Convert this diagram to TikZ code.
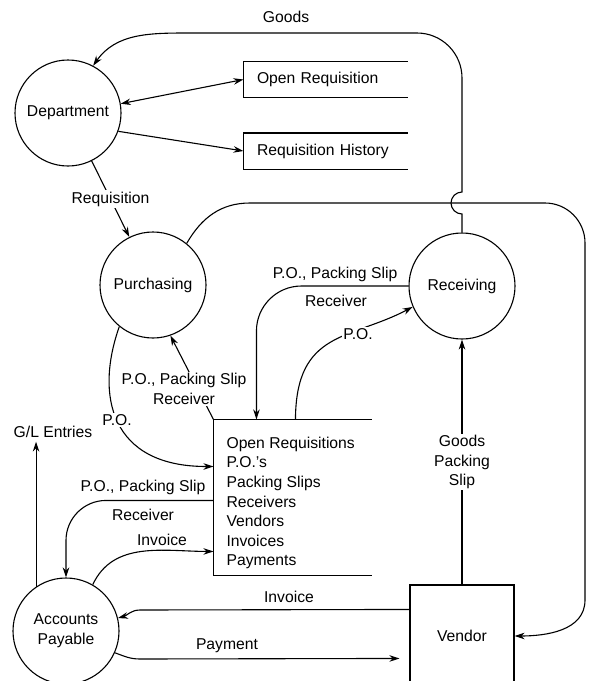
\documentclass[tikz,border=0pt]{standalone}
\usepackage{fontspec}
\setmainfont{Liberation Sans}
\usetikzlibrary{arrows.meta}

\tikzset{
  proc/.style={draw, circle, minimum size=106pt, inner sep=0pt, align=center},
  flow/.style={-{Stealth[length=10pt,width=6.5pt]}},
  flowboth/.style={{Stealth[length=10pt,width=6.5pt]}-{Stealth[length=10pt,width=6.5pt]}},
  lbl/.style={fill=white, inner sep=1.5pt, align=center},
  datastore/.style={minimum width=163pt, minimum height=35pt, text width=137pt, inner xsep=13pt, inner ysep=0pt, align=left},
}

\begin{document}
\begin{tikzpicture}[x=1pt, y=1pt, line width=1.1pt, font=\fontsize{15.7}{19.6}\selectfont]
            \useasboundingbox (0,0) rectangle (589,-681);
            \clip (0,0) rectangle (589,-681);

            \node[proc] (dep) at (68,-113) {Department};
            \node[proc] (pur) at (153,-285) {Purchasing};
            \node[proc] (rec) at (462,-286) {Receiving};
            \node[proc] (ap) at (66,-631) {Accounts\\Payable};
            \node[draw, minimum width=104pt, minimum height=102pt] (ven) at (462,-636) {Vendor};

            \node[datastore] (openreq) at (325.5,-79.5) {Open Requisition};
            \node[datastore] (reqhist) at (325.5,-151) {Requisition History};
            \node[minimum width=157pt, minimum height=155pt] (db) at (292.5,-497.5) {};
            \node[anchor=west, align=left, inner sep=0pt] (dblist) at (226,-503) {Open Requisitions\\P.O.'s\\Packing Slips\\Receivers\\Vendors\\Invoices\\Payments};

            % stores, open on the right
            \draw (openreq.north east) -- (openreq.north west) -- (openreq.south west) -- (openreq.south east);
            \draw (reqhist.north east) -- (reqhist.north west) -- (reqhist.south west) -- (reqhist.south east);
            \draw (db.north east) -- (db.north west) -- (db.south west) -- (db.south east);

            \draw[flowboth] (dep.10) to (openreq.west);
            \draw[flow] (dep.-20) to (reqhist.west);
            \draw[flow] (dep) to node[lbl] {Requisition} (pur);

            % goods go back up, hopping over the purchasing line
            \node (goodslbl) at (286,-17) {Goods};
            \draw[flow] (rec.north) -- (462,-214) arc[start angle=270, end angle=90, radius=11pt] -- (462,-78) arc[start angle=0, end angle=90, radius=45pt] -- (190,-33) to[out=180, in=55] (dep.62);

            \draw[flow] (pur.51) to[out=60, in=180] (250,-203) -- (545,-203) arc[start angle=90, end angle=0, radius=40pt] -- (585,-600) to[out=270, in=0] (ven.east);

            \draw[flow, rounded corners=45pt] (rec.west) -| ([xshift=43pt]db.north west);
            \node (recpo) at (335,-274) {P.O., Packing Slip};
            \node (recrcv) at (336,-301) {Receiver};

            \draw[flow] ([xshift=82pt]db.north west) .. controls (296,-330) and (350,-340) .. (rec.203);
            \node[lbl] (dbpo) at (358,-334) {P.O.};

            \draw[flow] (db.north west) to (pur.-71);
            \node[lbl] (dbpur) at (184,-389) {P.O., Packing Slip\\Receiver};

            \draw[flow] (pur.231) .. controls (95,-395) and (110,-467) .. ([yshift=-47pt]db.north west);
            \node[lbl] (purpo) at (117,-420) {P.O.};

            \node (gl) at (53,-432) {G/L Entries};
            \draw[flow] (ap.124) to (ap.124 |- gl.south);

            \draw[flow, rounded corners=40pt] ([yshift=-81pt]db.north west) -| (ap.north);
            \node (dbappo) at (143,-487) {P.O., Packing Slip};
            \node (dbaprcv) at (143,-515) {Receiver};

            \draw[flow] (ap.60) to[out=65, in=180] ([yshift=-132pt]db.north west);
            \node (apinv) at (162,-540) {Invoice};

            \draw[flow] ([yshift=-25pt]ven.north west) -- (140,-610) to[out=180, in=15] (ap.14);
            \node (veninv) at (289,-597) {Invoice};

            \draw[flow] (ap.-24) to[out=-20, in=180] (140,-659) -- ([shift={(-10pt,-74pt)}]ven.north west);
            \node (appay) at (227,-646) {Payment};

            \draw[flow] (ven.north) to node[lbl] {Goods\\Packing\\Slip} (ven.north |- rec.south);
        \end{tikzpicture}
\end{document}
